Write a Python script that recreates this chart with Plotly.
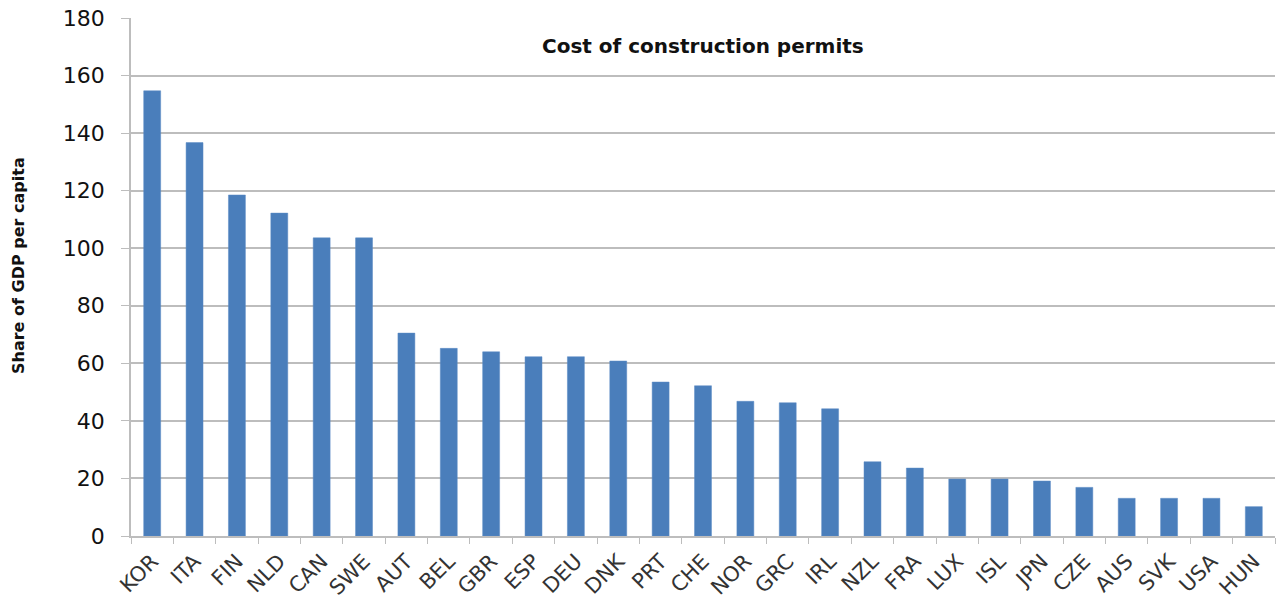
import plotly.graph_objects as go

countries = ["KOR", "ITA", "FIN", "NLD", "CAN", "SWE", "AUT", "BEL", "GBR", "ESP", "DEU", "DNK", "PRT",
             "CHE", "NOR", "GRC", "IRL", "NZL", "FRA", "LUX", "ISL", "JPN", "CZE", "AUS", "SVK", "USA", "HUN"]
values = [154.7, 136.7, 118.5, 112.2, 103.6, 103.6, 70.5, 65.2, 64.0, 62.3, 62.3, 60.8, 53.5,
          52.2, 46.8, 46.3, 44.2, 25.8, 23.6, 19.8, 19.8, 19.1, 16.9, 13.1, 13.1, 13.1, 10.2]
y_ticks = [0, 20, 40, 60, 80, 100, 120, 140, 160, 180]

title_text = "Cost of construction permits"
y_title = "Share of GDP per capita"

FONT = "DejaVu Sans, Verdana, sans-serif"
W, H = 1278, 613
ML, MR, MT, MB = 131, 3, 18, 77

fig = go.Figure(go.Bar(
    x=countries, y=values,
    marker=dict(color="#4a7ebb", line=dict(color="#5b8ac4", width=0.5)),
))

plot_w = W - ML - MR
plot_h = H - MT - MB

fig.update_layout(
    width=W, height=H,
    margin=dict(l=ML, r=MR, t=MT, b=MB),
    paper_bgcolor="white", plot_bgcolor="white",
    bargap=0.6,
    showlegend=False,
    font=dict(family=FONT, color="#222"),
    annotations=[
        dict(text="<b>" + title_text + "</b>", x=0.5, y=1 - (46 - MT) / plot_h, xref="paper", yref="paper",
             showarrow=False, font=dict(size=20, color="#111", family=FONT),
             xanchor="center", yanchor="middle"),
        dict(text="<b>" + y_title + "</b>", x=(18 - ML) / plot_w, y=1 - (266 - MT) / plot_h,
             xref="paper", yref="paper",
             showarrow=False, font=dict(size=16, color="#111", family=FONT), textangle=-90,
             xanchor="center", yanchor="middle"),
    ],
)

fig.update_yaxes(
    range=[0, 180], tickvals=y_ticks, showgrid=True, gridcolor="#bdbdbd", gridwidth=1.5,
    showline=True, linecolor="#bdbdbd", linewidth=1.5, ticks="outside", ticklen=8,
    tickcolor="#bdbdbd", tickfont=dict(size=22, color="#111", family=FONT), zeroline=False,
    ticklabelstandoff=12, automargin=False,
)
fig.update_xaxes(
    type="category", tickangle=-45, tickson="boundaries", ticks="outside", ticklen=6,
    tickcolor="#bdbdbd", showline=True, linecolor="#bdbdbd", linewidth=1.5,
    tickfont=dict(size=21, color="#333", family=FONT), automargin=False,
    ticklabelstandoff=3,
)

fig.write_html("out.html", config={"displayModeBar": False},
               post_script="document.body.style.margin='0px';")
